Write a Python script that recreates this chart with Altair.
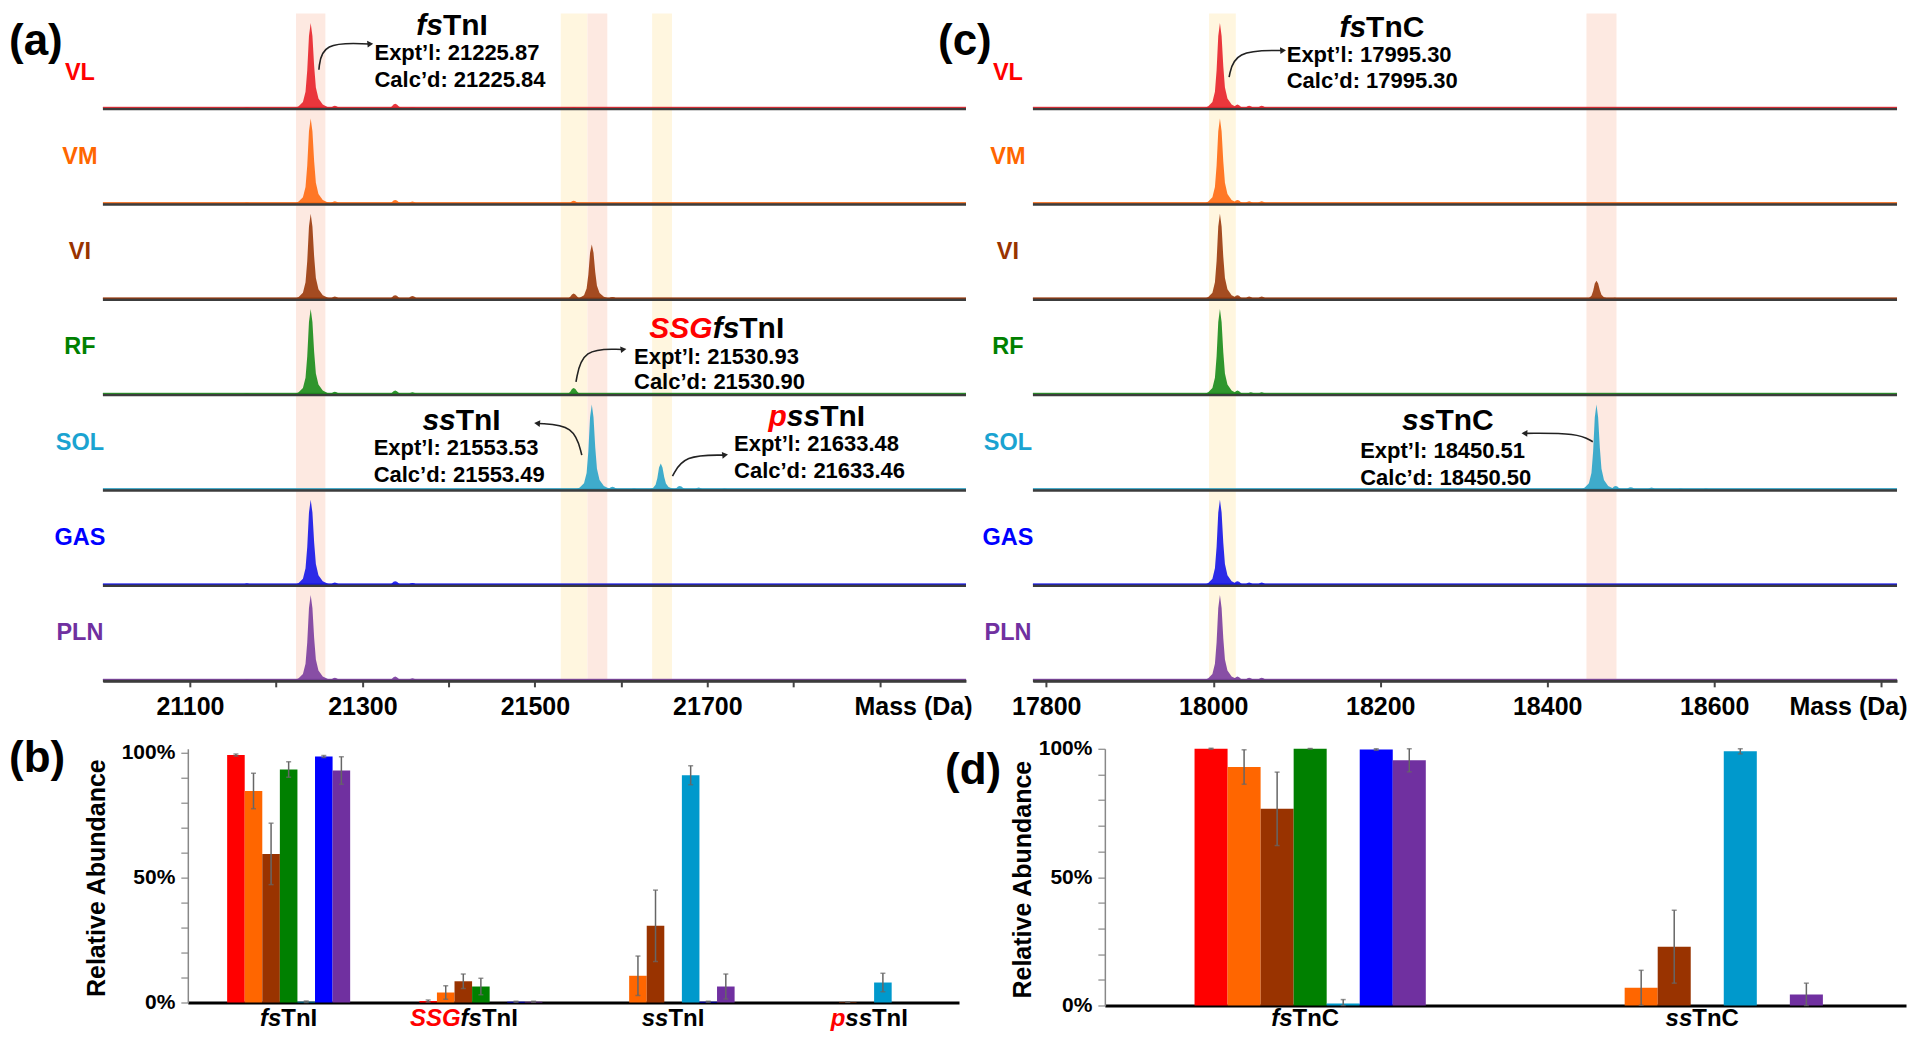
import altair as alt
import pandas as pd

FONT = "Liberation Sans"

# ---------------- shared series definitions ----------------
ROWS = ["VL", "VM", "VI", "RF", "SOL", "GAS", "PLN"]
ROW_LABEL_COLORS = ["#FF0000", "#FF6600", "#993300", "#008000", "#1AA3D1", "#0000FF", "#7030A0"]
SPECTRUM_COLORS = ["#E8222A", "#FF6A12", "#9A3A0C", "#1A8C1A", "#2AA4C9", "#1515E8", "#7B3D9F"]
BAR_COLORS = ["#FF0000", "#FF6600", "#993300", "#008000", "#0099CC", "#0000FF", "#7030A0"]

# peak profile (offset in Da, relative intensity)
PEAK_OFFSET = [-20, -14, -9, -6, -4, -2, 0, 2, 4, 6, 9, 14, 20, 28]
PEAK_SHAPE = [0, 0.03, 0.08, 0.2, 0.45, 0.85, 1.0, 0.85, 0.5, 0.25, 0.12, 0.05, 0.02, 0]

# ---------------- panel (a) : TnI spectra ----------------
A_PEAK_ROW = (["VL"] * 6 + ["VM"] * 6 + ["VI"] * 7 + ["RF"] * 6 + ["SOL"] * 8
              + ["GAS"] * 5 + ["PLN"] * 5)
A_PEAK_MASS = [21166, 21240, 21268, 21338, 21358, 21545,
               21166, 21240, 21268, 21338, 21358, 21545,
               21240, 21268, 21338, 21358, 21545, 21566, 21590,
               21166, 21240, 21268, 21338, 21358, 21545,
               21566, 21590, 21615, 21646, 21668, 21690, 21720, 21760,
               21166, 21240, 21268, 21338, 21358,
               21166, 21240, 21268, 21338, 21358]
A_PEAK_HEIGHT = [0.02, 1.0, 0.035, 0.06, 0.02, 0.015,
                 0.02, 1.0, 0.035, 0.05, 0.03, 0.04,
                 1.0, 0.035, 0.05, 0.04, 0.07, 0.64, 0.03,
                 0.02, 1.0, 0.035, 0.05, 0.03, 0.08,
                 1.0, 0.04, 0.02, 0.31, 0.05, 0.03, 0.02, 0.015,
                 0.025, 1.0, 0.035, 0.05, 0.03,
                 0.02, 1.0, 0.035, 0.05, 0.03]
A_BAND_LO = [21223, 21530, 21561, 21636]
A_BAND_HI = [21257, 21561, 21584, 21659]
A_BAND_COLOR = ["#FDE9E1", "#FFF6DF", "#FDE9E1", "#FFF6DF"]
A_TICKS = [21100, 21200, 21300, 21400, 21500, 21600, 21700, 21800, 21900]
A_TICK_LABELS = [21100, 21300, 21500, 21700]

A_TITLE = ["fsTnI", "SSGfsTnI", "ssTnI", "pssTnI"]
A_TITLE_MASS = [21404, 21711, 21415, 21827]
A_TITLE_Y = [6.874, 3.689, 2.725, 2.767]
A_NOTE_TEXT = ["Expt’l: 21225.87", "Calc’d: 21225.84", "Expt’l: 21530.93", "Calc’d: 21530.90",
               "Expt’l: 21553.53", "Calc’d: 21553.49", "Expt’l: 21633.48", "Calc’d: 21633.46"]
A_NOTE_MASS = [21314, 21314, 21615, 21615, 21313, 21313, 21731, 21731]
A_NOTE_Y = [6.591, 6.298, 3.395, 3.133, 2.447, 2.159, 2.484, 2.201]
A_ARROW_ID = [0, 0, 0, 1, 1, 1, 2, 2, 2, 3, 3, 3]
A_ARROW_MASS = [21249.5, 21253, 21308, 21547.7, 21555, 21601.7,
                21554.4, 21545.7, 21503.7, 21659.6, 21673, 21719.5]
A_ARROW_Y = [6.41, 6.70, 6.68, 3.137, 3.49, 3.476,
             2.368, 2.683, 2.70, 2.148, 2.368, 2.368]
A_ARROW_ANGLE = [85, 82, 275, 83]

# ---------------- panel (c) : TnC spectra ----------------
C_PEAK_ROW = (["VL"] * 5 + ["VM"] * 5 + ["VI"] * 7 + ["RF"] * 4 + ["SOL"] * 6
              + ["GAS"] * 5 + ["PLN"] * 5)
C_PEAK_MASS = [18008, 18029, 18043, 18058, 18090,
               18008, 18029, 18043, 18058, 18090,
               18008, 18029, 18043, 18058, 18090, 18459, 18481,
               18008, 18029, 18045, 18058,
               18459, 18482, 18500, 18525, 18560, 18590,
               18008, 18029, 18043, 18058, 18090,
               18008, 18029, 18043, 18058, 18090]
C_PEAK_HEIGHT = [1.0, 0.05, 0.035, 0.035, 0.01,
                 1.0, 0.05, 0.035, 0.035, 0.01,
                 1.0, 0.05, 0.035, 0.035, 0.01, 0.22, 0.02,
                 1.0, 0.05, 0.03, 0.03,
                 1.0, 0.05, 0.035, 0.03, 0.02, 0.02,
                 1.0, 0.05, 0.035, 0.035, 0.01,
                 1.0, 0.05, 0.035, 0.035, 0.01]
C_BAND_LO = [17995, 18447]
C_BAND_HI = [18027, 18483]
C_BAND_COLOR = ["#FFF6DF", "#FDE9E1"]
C_TICKS = [17800, 18000, 18200, 18400, 18600, 18800]
C_TICK_LABELS = [17800, 18000, 18200, 18400, 18600]

C_TITLE = ["fsTnC", "ssTnC"]
C_TITLE_MASS = [18202, 18281]
C_TITLE_Y = [6.853, 2.725]
C_NOTE_TEXT = ["Expt’l: 17995.30", "Calc’d: 17995.30", "Expt’l: 18450.51", "Calc’d: 18450.50"]
C_NOTE_MASS = [18088, 18088, 18176, 18176]
C_NOTE_Y = [6.570, 6.287, 2.41, 2.127]
C_ARROW_ID = [0, 0, 0, 1, 1, 1]
C_ARROW_MASS = [18019, 18025.5, 18082.5, 18454.6, 18436.6, 18373.9]
C_ARROW_Y = [6.333, 6.612, 6.612, 2.508, 2.599, 2.596]
C_ARROW_ANGLE = [86, 272]

# ---------------- panel (b) : TnI relative abundance ----------------
B_CATEGORIES = ["fsTnI", "SSGfsTnI", "ssTnI", "pssTnI"]
B_FSTNI_MEAN = [99.1, 84.7, 59.5, 93.3, 0.3, 98.5, 92.9]
B_FSTNI_ERR = [0.4, 7.1, 12.3, 3.1, 0.3, 0.4, 5.5]
B_SSG_MEAN = [0.6, 4.0, 8.5, 6.4, None, 0.3, 0.3]
B_SSG_ERR = [0.4, 2.7, 2.9, 3.3, None, 0.2, 0.2]
B_SSTNI_MEAN = [None, 10.7, 30.7, None, 91.0, 0.3, 6.4]
B_SSTNI_ERR = [None, 7.9, 14.3, None, 3.8, 0.2, 5.0]
B_PSSTNI_MEAN = [None, None, 0.2, None, 8.0, None, None]
B_PSSTNI_ERR = [None, None, 0.1, None, 3.7, None, None]
B_LABEL_SHIFT = [0, -17, 0, 4]

# ---------------- panel (d) : TnC relative abundance ----------------
D_CATEGORIES = ["fsTnC", "ssTnC"]
D_FSTNC_MEAN = [100.0, 92.9, 76.6, 100.0, 0.8, 99.7, 95.5]
D_FSTNC_ERR = [0.2, 6.7, 14.3, 0.1, 1.5, 0.3, 4.5]
D_SSTNC_MEAN = [None, 6.9, 22.9, None, 99.0, None, 4.3]
D_SSTNC_ERR = [None, 6.8, 14.2, None, 1.0, None, 4.4]
D_LABEL_SHIFT = [-5, -5]

# styled name pieces: (text, colour, italic)
NAME_PIECES = {
    "fsTnI": [("fs", "black", True), ("TnI", "black", False)],
    "SSGfsTnI": [("SSG", "#FF0000", True), ("fs", "black", True), ("TnI", "black", False)],
    "ssTnI": [("ss", "black", True), ("TnI", "black", False)],
    "pssTnI": [("p", "#FF0000", True), ("ss", "black", True), ("TnI", "black", False)],
    "fsTnC": [("fs", "black", True), ("TnC", "black", False)],
    "ssTnC": [("ss", "black", True), ("TnC", "black", False)],
}
CHAR_W = {"f": 333, "s": 556, "T": 611, "n": 611, "I": 278, "S": 667, "G": 778, "p": 611, "C": 722}

ONE = pd.DataFrame({"k": [0]})


def text_width(s, size):
    return sum(CHAR_W.get(c, 600) for c in s) * size / 1000.0


def name_layers(name, data, x_enc, y_enc, size, shift=0.0):
    pieces = NAME_PIECES[name]
    total = sum(text_width(t, size) for t, _, _ in pieces)
    cur = -total / 2.0 + shift
    out = []
    for t, col, it in pieces:
        out.append(
            alt.Chart(data).mark_text(
                text=t, align="left", baseline="middle", dx=cur, font=FONT, fontSize=size,
                fontWeight="bold", fontStyle="italic" if it else "normal", color=col
            ).encode(x=x_enc, y=y_enc)
        )
        cur += text_width(t, size)
    return out


def panel_label(text, px, py):
    return alt.Chart(ONE).mark_text(
        text=text, align="left", baseline="middle", font=FONT, fontSize=44, fontWeight="bold", color="black"
    ).encode(x=alt.value(px), y=alt.value(py))


def spectrum_panel(prow, pmass, pheight, blo, bhi, bcol, domain, ticks, tick_labels,
                   titles, tmass, ty, ntext, nmass, ny, aid, amass, ay, aangle,
                   label, label_x, row_label_x, mass_title_x, width, height, anchor=False):
    xaxis = alt.Axis(
        values=ticks, format="d",
        labelExpr=f"indexof({tick_labels}, datum.value) >= 0 ? datum.label : ''",
        labelFont=FONT, labelFontSize=25, labelFontWeight="bold", labelColor="black",
        labelPadding=8, labelFlush=False, labelOverlap=False,
        tickSize=6, tickWidth=2, tickColor="#444444",
        domainColor="#444444", domainWidth=3, grid=False,
        title="Mass (Da)", titleFont=FONT, titleFontSize=25, titleFontWeight="bold", titleColor="black",
        titleX=mass_title_x, titleY=14, titleAlign="right", titleBaseline="top",
    )
    xscale = alt.Scale(domain=domain, nice=False, zero=False)
    X = alt.X("mass:Q", scale=xscale, axis=xaxis)
    Y = alt.Y("y:Q", scale=alt.Scale(domain=[0, 7], nice=False, zero=False), axis=None)

    bands = pd.DataFrame({"mass": blo, "mass2": bhi, "color": bcol,
                          "y": [7] * len(blo), "y2": [0] * len(blo)})
    recs = []
    for pid, (r, m, h) in enumerate(zip(prow, pmass, pheight)):
        ri = ROWS.index(r)
        base = 6 - ri
        for off, s in zip(PEAK_OFFSET, PEAK_SHAPE):
            recs.append({"pid": pid, "mass": m + off, "y": base + 0.9 * h * s, "y2": base,
                         "color": SPECTRUM_COLORS[ri]})
    spec = pd.DataFrame(recs)
    base_df = pd.DataFrame({"y": [6 - i for i in range(7)], "color": SPECTRUM_COLORS})
    lab_df = pd.DataFrame({"label": ROWS,
                           "y": [6 - i + (0.38 if i == 0 else 0.5) for i in range(7)],
                           "color": ROW_LABEL_COLORS})
    notes = pd.DataFrame({"mass": nmass, "y": ny, "text": ntext})
    arrows = pd.DataFrame({"aid": aid, "i": list(range(len(aid))), "mass": amass, "y": ay})
    heads = arrows.groupby("aid").tail(1).copy()
    heads["angle"] = aangle

    layers = [
        alt.Chart(bands).mark_rect().encode(
            x=X, x2="mass2:Q", y=Y, y2="y2:Q", color=alt.Color("color:N", scale=None)),
        alt.Chart(spec).mark_area(opacity=0.9).encode(
            x=X, y=Y, y2="y2:Q", detail="pid:N", color=alt.Color("color:N", scale=None)),
        alt.Chart(base_df).mark_rule(color="#3c3c3c", strokeWidth=3).encode(
            y=Y, x=alt.value(0), x2=alt.value(width)),
        alt.Chart(base_df).mark_rule(strokeWidth=1.3, yOffset=-1.5, opacity=0.8).encode(
            y=Y, x=alt.value(0), x2=alt.value(width), color=alt.Color("color:N", scale=None)),
        alt.Chart(lab_df).mark_text(font=FONT, fontSize=23.5, fontWeight="bold",
                                    align="center", baseline="middle").encode(
            x=alt.value(row_label_x), y=Y, text="label:N", color=alt.Color("color:N", scale=None)),
        alt.Chart(notes).mark_text(font=FONT, fontSize=22, fontWeight="bold", align="left",
                                   baseline="middle", color="black").encode(
            x=X, y=Y, text="text:N"),
        alt.Chart(arrows).mark_line(interpolate="basis", color="#222222", strokeWidth=1.6).encode(
            x=X, y=Y, detail="aid:N", order="i:Q"),
        alt.Chart(heads).mark_point(shape="triangle", filled=True, color="#222222", size=45,
                                    opacity=1).encode(
            x=X, y=Y, angle=alt.Angle("angle:Q", scale=None)),
        panel_label(label, label_x, 29),
    ]
    for name, m, yv in zip(titles, tmass, ty):
        layers += name_layers(name, pd.DataFrame({"mass": [m], "y": [yv]}), X, Y, 30)
    if anchor:
        layers.append(alt.Chart(ONE).mark_rect(opacity=0).encode(
            x=alt.value(-95), x2=alt.value(-94), y=alt.value(-5), y2=alt.value(-4)))
    return alt.layer(*layers).properties(width=width, height=height)


def bar_panel(cats, means, errs, shifts, lead, plot_w, height, ymax, pi, po, al, ytitle_x,
              label, lx, ly, cat_y):
    """lead: empty pixels left of the plotting region inside this view."""
    recs = []
    for c, mlist, elist in zip(cats, means, errs):
        for s, m, e, col in zip(ROWS, mlist, elist, BAR_COLORS):
            if m is None:
                continue
            recs.append({"cat": c, "series": s, "value": m, "lo": max(m - e, 0), "hi": m + e,
                         "color": col})
    df = pd.DataFrame(recs)
    width = lead + plot_w
    X = alt.X("cat:N",
              scale=alt.Scale(domain=cats, range=[lead, width], paddingInner=pi,
                              paddingOuter=po, align=al),
              axis=alt.Axis(labels=False, ticks=False, title=None, domainColor="black",
                            domainWidth=3, grid=False))
    XO = alt.XOffset("series:N", scale=alt.Scale(domain=ROWS, paddingInner=0, paddingOuter=0))
    yaxis = alt.Axis(
        values=list(range(0, 101, 10)), offset=-lead,
        labelExpr="datum.value % 50 == 0 ? datum.value + '%' : ''",
        labelFont=FONT, labelFontSize=21, labelFontWeight="bold", labelColor="black",
        labelPadding=6, tickSize=7, tickColor="#888888", tickWidth=1.2,
        domainColor="#888888", domainWidth=1.5, grid=False,
        title="Relative Abundance", titleFont=FONT, titleFontSize=25, titleFontWeight="bold",
        titleColor="black", titleX=ytitle_x, titleY=height / 2 + 2, titleAngle=270,
        titleAlign="center", titleBaseline="middle",
    )
    yscale = alt.Scale(domain=[0, ymax], nice=False, zero=True)

    def Yf(field):
        return alt.Y(f"{field}:Q", scale=yscale, axis=yaxis)

    layers = [
        alt.Chart(df).mark_bar().encode(x=X, xOffset=XO, y=Yf("value"),
                                        color=alt.Color("color:N", scale=None)),
        alt.Chart(df).mark_rule(color="#666666", strokeWidth=1.5).encode(
            x=X, xOffset=XO, y=Yf("lo"), y2="hi:Q"),
        alt.Chart(df).mark_tick(orient="horizontal", size=5, thickness=1.5, color="#666666").encode(
            x=X, xOffset=XO, y=Yf("lo")),
        alt.Chart(df).mark_tick(orient="horizontal", size=5, thickness=1.5, color="#666666").encode(
            x=X, xOffset=XO, y=Yf("hi")),
        panel_label(label, lead + lx, ly),
    ]
    for c, sh in zip(cats, shifts):
        layers += name_layers(c, pd.DataFrame({"cat": [c]}), X, alt.value(cat_y), 24, sh)
    return alt.layer(*layers).properties(width=width, height=height)


chart_a = spectrum_panel(A_PEAK_ROW, A_PEAK_MASS, A_PEAK_HEIGHT, A_BAND_LO, A_BAND_HI, A_BAND_COLOR,
                         [20999, 22000], A_TICKS, A_TICK_LABELS,
                         A_TITLE, A_TITLE_MASS, A_TITLE_Y, A_NOTE_TEXT, A_NOTE_MASS, A_NOTE_Y,
                         A_ARROW_ID, A_ARROW_MASS, A_ARROW_Y, A_ARROW_ANGLE,
                         "(a)", -94, -23, 870, 864, 668, anchor=True)
chart_c = spectrum_panel(C_PEAK_ROW, C_PEAK_MASS, C_PEAK_HEIGHT, C_BAND_LO, C_BAND_HI, C_BAND_COLOR,
                         [17784, 18819], C_TICKS, C_TICK_LABELS,
                         C_TITLE, C_TITLE_MASS, C_TITLE_Y, C_NOTE_TEXT, C_NOTE_MASS, C_NOTE_Y,
                         C_ARROW_ID, C_ARROW_MASS, C_ARROW_Y, C_ARROW_ANGLE,
                         "(c)", -95, -25, 875, 865, 668)

chart_b = bar_panel(B_CATEGORIES,
                    [B_FSTNI_MEAN, B_SSG_MEAN, B_SSTNI_MEAN, B_PSSTNI_MEAN],
                    [B_FSTNI_ERR, B_SSG_ERR, B_SSTNI_ERR, B_PSSTNI_ERR], B_LABEL_SHIFT,
                    85, 772, 254, 101.6, 0.36, 0.186, 0.55, -91, "(b)", -179, 10, 271)
chart_d = bar_panel(D_CATEGORIES,
                    [D_FSTNC_MEAN, D_SSTNC_MEAN],
                    [D_FSTNC_ERR, D_SSTNC_ERR], D_LABEL_SHIFT,
                    72, 802, 257, 100, 0.4176, 0.2176, 0.519, -82, "(d)", -160, 22, 271)

chart = alt.concat(
    chart_a, chart_c, chart_b, chart_d,
    columns=2, spacing={"row": 68, "column": 67}, bounds="flush", align="each",
).resolve_scale(
    x="independent", y="independent", xOffset="independent"
).properties(
    padding={"left": 0, "top": 0, "right": 5, "bottom": 5}
).configure_view(stroke=None)

chart.save("out.html", embed_options={"renderer": "svg", "actions": False})
